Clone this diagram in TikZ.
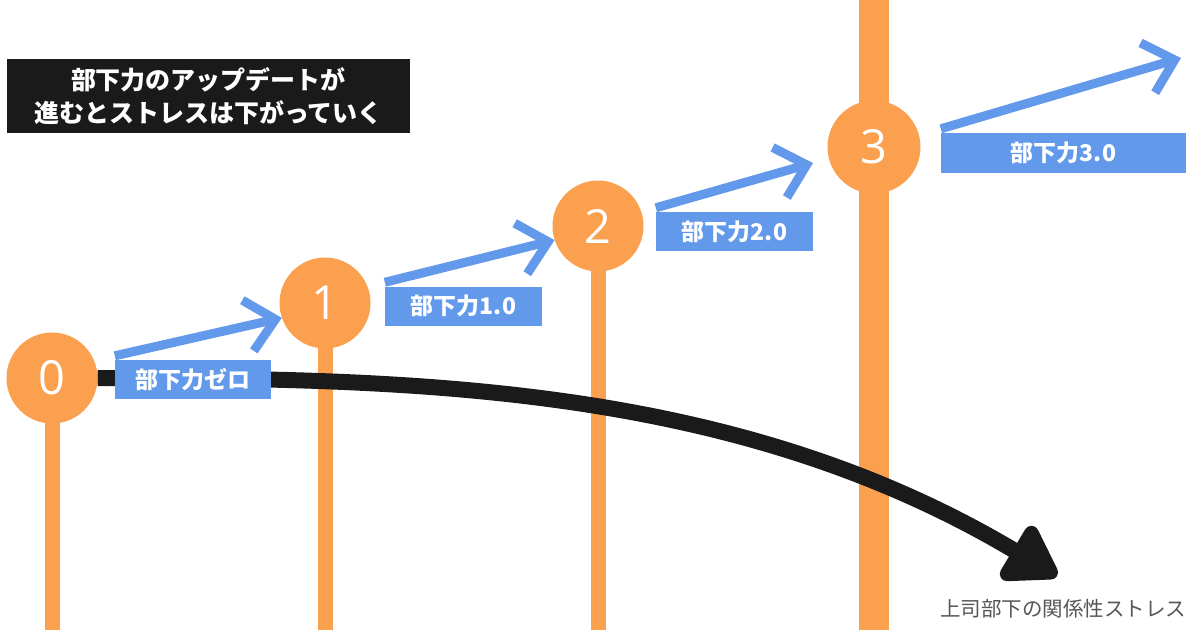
\documentclass[tikz,border=0pt]{standalone}
\usepackage{fontspec}
\setmainfont{Noto Sans CJK JP}
\newfontfamily\numfont{Open Sans}
\usetikzlibrary{arrows.meta}
\definecolor{kakiorange}{RGB}{250,160,78}
\definecolor{sorablue}{RGB}{98,153,235}
\definecolor{sumi}{RGB}{26,26,26}
\definecolor{nezumi}{RGB}{85,85,85}

\begin{document}
\begin{tikzpicture}[x=1pt,y=-1pt,
	ball/.style={circle,fill=kakiorange,minimum size=91pt,inner sep=0pt,text=white,font=\numfont\fontsize{47}{47}\selectfont},
	stem/.style={draw=kakiorange,line width=15pt},
	tag/.style={fill=sorablue,text=white,inner sep=0pt,minimum height=39pt,font=\bfseries\fontsize{23}{23}\selectfont},
	up/.style={draw=sorablue,line width=9pt,-{Straight Barb[length=28pt,width=52pt]}},
	stress/.style={draw=sumi,line width=16pt,-{Triangle[length=58pt,width=70pt,round]}}]
	\useasboundingbox (0,0) rectangle (1200,630);
	\coordinate (top) at (0,0);
	\coordinate (bottom) at (0,630);
	\coordinate (p0) at (52,378);
	\coordinate (p1) at (325,303);
	\coordinate (p2) at (598,226);
	\coordinate (p3) at (874,147);
	% stems
	\draw[stem] (p0) -- (p0 |- bottom);
	\draw[stem] (p1) -- (p1 |- bottom);
	\draw[stem] (p2) -- (p2 |- bottom);
	\draw[stem,line width=30pt] (p3 |- top) -- (p3 |- bottom);
	\node (c0) at (p0) [ball] {0};
	\node (c1) at (p1) [ball] {1};
	\node (c2) at (p2) [ball] {2};
	\node (c3) at (p3) [ball,minimum size=93pt] {3};
	% stress curve
	\coordinate (stresstip) at (1057,576);
	\draw[stress] (c0.east) .. controls (418,378) and (737,385) .. (stresstip);
	% labels
	\node (t0) at (193,379.5) [tag,minimum width=156pt] {部下力ゼロ};
	\node (t1) at (463.5,306) [tag,minimum width=157pt] {部下力1.0};
	\node (t2) at (734.5,231.5) [tag,minimum width=157pt] {部下力2.0};
	\node (t3) at (1063.5,153) [tag,minimum width=245pt,minimum height=40pt] {部下力3.0};
	\coordinate (e2) at (813,163);
	\coordinate (e3) at (1181,58);
	\draw[up] ([yshift=4pt]t0.north west) -- (c1.199);
	\draw[up] ([yshift=4pt]t1.north west) -- (c2.198);
	\draw[up] ([yshift=4pt]t2.north west) -- (e2);
	\draw[up] ([yshift=4pt]t3.north west) -- (e3);
	% texts
	\node (title) at (208.5,96) [fill=sumi,text=white,minimum width=403pt,minimum height=74pt,inner sep=0pt,align=center,font=\bfseries\fontsize{25}{33}\selectfont] {部下力のアップデートが\\進むとストレスは下がっていく};
	\node (caption) at (1063,609) [text=nezumi,font=\fontsize{20.5}{20.5}\selectfont] {上司部下の関係性ストレス};
\end{tikzpicture}
\end{document}
